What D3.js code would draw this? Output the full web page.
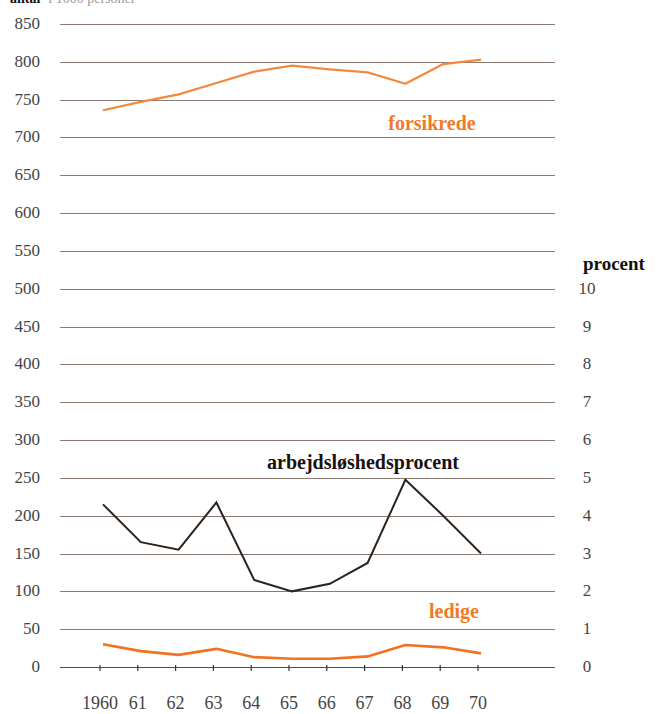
<!DOCTYPE html>
<html><head><meta charset="utf-8">
<script src="https://cdn.jsdelivr.net/npm/d3@7"></script>
<style>
html,body{margin:0;padding:0;background:#fff;}
svg{display:block;}
svg text{font-family:"Liberation Serif","DejaVu Serif",serif;}
</style></head>
<body>
<svg id="chart" width="656" height="714"></svg>
<script>
const years = [1960,1961,1962,1963,1964,1965,1966,1967,1968,1969,1970];
const yearLabels = ["1960","61","62","63","64","65","66","67","68","69","70"];
const forsikrede = [736,747,757,772,787,795,790,786,771,797,803];
const ledige = [30,21,16,24,13,11,11,14,29,26,18];
const arbejdsloshedsprocent = [4.3,3.3,3.1,4.35,2.3,2.0,2.2,2.75,4.95,4.0,3.0];
const leftTicks = [0,50,100,150,200,250,300,350,400,450,500,550,600,650,700,750,800,850];
const rightTicks = [0,1,2,3,4,5,6,7,8,9,10];

const svg = d3.select("#chart");

const y = d3.scaleLinear().domain([0,850]).range([667,24]);
const yp = d3.scaleLinear().domain([0,10]).range([y(0), y(500)]);
const x = d3.scaleLinear().domain([1960,1970]).range([103,481]);

// title at top (clipped in the original)
const t = svg.append("text").attr("x",10).attr("y",3).attr("font-size",14);
t.append("tspan").attr("font-weight","bold").attr("fill","#111").text("antal");
t.append("tspan").attr("fill","#999").attr("dx",8).text("i 1000 personer");

// gridlines
svg.append("g").selectAll("line").data(leftTicks).join("line")
  .attr("x1",60).attr("x2",555)
  .attr("y1",d=>Math.round(y(d))+0.5).attr("y2",d=>Math.round(y(d))+0.5)
  .attr("stroke",d=>d===0?"#5a4a3a":"#8a7a72").attr("stroke-width",1);

// left axis labels
svg.append("g").selectAll("text").data(leftTicks).join("text")
  .attr("x",40).attr("y",d=>y(d)+5)
  .attr("text-anchor","end")
  .attr("font-size",17).attr("fill","#444")
  .text(d=>d);

// right axis labels
svg.append("g").selectAll("text").data(rightTicks).join("text")
  .attr("x",587).attr("y",d=>yp(d)+5)
  .attr("text-anchor","middle")
  .attr("font-size",17).attr("fill","#444")
  .text(d=>d);

svg.append("text").attr("x",614).attr("y",270).attr("text-anchor","middle")
  .attr("font-weight","bold").attr("font-size",19)
  .attr("fill","#111").text("procent");

// x ticks
svg.append("g").selectAll("line").data(years).join("line")
  .attr("x1",d=>x(d)-3).attr("x2",d=>x(d)-3)
  .attr("y1",665).attr("y2",671)
  .attr("stroke","#333").attr("stroke-width",1.2);

svg.append("g").selectAll("text").data(years).join("text")
  .attr("x",d=>x(d)-3).attr("y",709)
  .attr("text-anchor","middle")
  .attr("font-size",18).attr("fill","#444")
  .text((d,i)=>yearLabels[i]);

// lines
const lineL = d3.line().x((d,i)=>x(years[i])).y(d=>y(d));
const lineP = d3.line().x((d,i)=>x(years[i])).y(d=>yp(d));

svg.append("path").datum(forsikrede).attr("d",lineL)
  .attr("fill","none").attr("stroke","#f28a3e").attr("stroke-width",2.2)
  .attr("stroke-linejoin","round");
svg.append("path").datum(ledige).attr("d",lineL)
  .attr("fill","none").attr("stroke","#f27222").attr("stroke-width",2.6)
  .attr("stroke-linejoin","round");
svg.append("path").datum(arbejdsloshedsprocent).attr("d",lineP)
  .attr("fill","none").attr("stroke","#2b2222").attr("stroke-width",2)
  .attr("stroke-linejoin","miter");

// series labels
svg.append("text").attr("x",432).attr("y",130).attr("text-anchor","middle")
  .attr("font-weight","bold").attr("font-size",20)
  .attr("fill","#f07a2a").text("forsikrede");
svg.append("text").attr("x",363).attr("y",469).attr("text-anchor","middle")
  .attr("font-weight","bold").attr("font-size",20)
  .attr("fill","#1a1111").text("arbejdsløshedsprocent");
svg.append("text").attr("x",454).attr("y",618).attr("text-anchor","middle")
  .attr("font-weight","bold").attr("font-size",20)
  .attr("fill","#f07a2a").text("ledige");
</script>
</body></html>
